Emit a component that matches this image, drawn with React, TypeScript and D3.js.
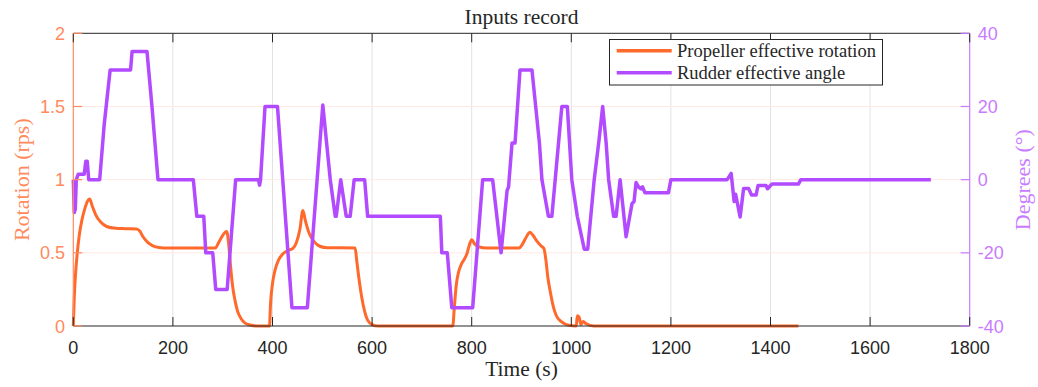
import React from "react";
import * as d3 from "d3";

const propT = [0,2,5,8,12,17,23,28,33,38,45,55,67,85,105,127,133,140,150,160,172,190,285,292,300,308,312,316,320,325,330,337,345,355,370,394,396,400,405,412,420,430,441,448,455,461,466,474,484,495,510,566,569,573,579,585,591,600,612,762,765,769,773,779,785,790,795,800,806,815,830,895,902,910,917,923,931,940,945,949,953,958,964,970,980,995,1010,1012,1016,1019,1024,1030,1045,1456];
const propRps = [0,0.2,0.38,0.5,0.62,0.72,0.8,0.85,0.867,0.82,0.76,0.71,0.68,0.668,0.665,0.663,0.65,0.61,0.57,0.548,0.537,0.533,0.533,0.57,0.62,0.645,0.56,0.4,0.27,0.17,0.1,0.05,0.02,0.007,0,0,0.15,0.29,0.38,0.45,0.49,0.515,0.53,0.57,0.66,0.79,0.72,0.63,0.575,0.545,0.535,0.533,0.45,0.34,0.2,0.1,0.04,0.01,0,0,0.12,0.28,0.36,0.42,0.455,0.49,0.55,0.59,0.56,0.54,0.533,0.533,0.56,0.61,0.64,0.62,0.58,0.545,0.53,0.45,0.33,0.23,0.13,0.07,0.03,0.005,0,0.07,0.06,0.01,0.03,0.015,0,0];

const rudT = [0,2,4,6,10,22,25,28,31,53,62,66,74,115,118,148,158,170,241,248,262,266,280,286,309,326,372,374,376,385,410,439,470,501,516,526,528,537,548,556,564,585,591,737,740,751,760,802,822,842,859,871,874,881,887,897,921,936,941,954,961,981,992,1001,1012,1026,1033,1046,1055,1063,1070,1075,1085,1090,1098,1110,1122,1126,1130,1135,1140,1143,1148,1195,1200,1313,1321,1327,1330,1339,1346,1356,1362,1371,1375,1391,1394,1403,1456,1461,1722];
const rudDeg = [0,-9,-8,0,1.5,1.5,5,5,0,0,15,20,30,30,35,35,20,0,0,-10,-10,-20,-20,-30,-30,0,0,-1.5,0,20,20,-35,-35,20.4,0,-10,-10,0,-10,-10,0,0,-10,-10,-20,-20,-35,-35,0,0,-20,-3,-2,10,10,30,30,10,0,-10,-10,20,20,0,-10,-19,-19,0,10,20,10,0,-10,-10,0,-15.6,-6.5,-6,-0.8,-2,-2.5,-2,-3.6,-3.6,0,0,1.7,-6,-4,-10.2,-2.4,-2.4,-4.2,-4.2,-1.6,-1.6,-2.5,-1.2,-1.2,0,0];

const xTicks = [0,200,400,600,800,1000,1200,1400,1600,1800];
const leftTicks = [0,0.5,1,1.5,2];
const rightTicks = [-40,-20,0,20,40];
const leftTickLabels = ["0","0.5","1","1.5","2"];
const rightTickLabels = ["-40","-20","0","20","40"];
const seriesNames = ["Propeller effective rotation","Rudder effective angle"];

const W = 1038, H = 387;
const L = 73.3, R = 969.7, T = 33.3, B = 326;
const ORANGE = "#FF6A2C";
const PURPLE = "#B24BFF";
const ORANGE_AX = "#FF8A5E";
const PURPLE_AX = "#C97AFF";
const DARK = "#262626";
const SERIF = "'Liberation Serif', 'DejaVu Serif', serif";
const SANS = "'Liberation Sans', Arial, sans-serif";

export default function App() {
  const x = d3.scaleLinear().domain([0, 1800]).range([L, R]);
  const yL = d3.scaleLinear().domain([0, 2]).range([B, T]);
  const yR = d3.scaleLinear().domain([-40, 40]).range([B, T]);
  const propLine = d3.line<number>().x((_, i) => x(propT[i])).y((d) => yL(d)).curve(d3.curveMonotoneX);
  const rudLine = d3.line<number>().x((_, i) => x(rudT[i])).y((d) => yR(d));
  const tl = 9;
  return (
    <svg width={W} height={H} style={{ position: "absolute", left: 0, top: 0, background: "#fff" }}>
      <rect x={0} y={0} width={W} height={H} fill="#fff" />
      {/* grid */}
      {xTicks.slice(1, -1).map((t) => (
        <line key={"gx" + t} x1={x(t)} x2={x(t)} y1={T} y2={B} stroke="#E2E2E2" strokeWidth={1} />
      ))}
      {leftTicks.slice(1, -1).map((t) => (
        <line key={"gy" + t} x1={L} x2={R} y1={yL(t)} y2={yL(t)} stroke="#FFE9E2" strokeWidth={1} />
      ))}
      {/* lines */}
      <path d={propLine(propRps) || ""} fill="none" stroke={ORANGE} strokeWidth={3} strokeLinejoin="round" />
      <path d={rudLine(rudDeg) || ""} fill="none" stroke={PURPLE} strokeWidth={3.5} strokeLinejoin="round" />
      {/* box */}
      <line x1={L} x2={R} y1={T} y2={T} stroke={DARK} strokeWidth={1} />
      <line x1={L} x2={R} y1={B} y2={B} stroke={DARK} strokeWidth={1} />
      <line x1={L} x2={L} y1={T} y2={B} stroke={ORANGE_AX} strokeWidth={1.2} />
      <line x1={R} x2={R} y1={T} y2={B} stroke={PURPLE_AX} strokeWidth={1.2} />
      {xTicks.map((t) => (
        <g key={"xt" + t}>
          <line x1={x(t)} x2={x(t)} y1={B} y2={B - tl} stroke={DARK} />
          <line x1={x(t)} x2={x(t)} y1={T} y2={T + tl} stroke={DARK} />
          <text x={x(t)} y={354} textAnchor="middle" fontFamily={SANS} fontSize={18} fill={DARK}>{t}</text>
        </g>
      ))}
      {leftTicks.map((t, i) => (
        <g key={"lt" + t}>
          <line x1={L} x2={L + tl} y1={yL(t)} y2={yL(t)} stroke={ORANGE_AX} strokeWidth={1.2} />
          <text x={65} y={yL(t) + 6.5} textAnchor="end" fontFamily={SANS} fontSize={18} fill={ORANGE_AX}>{leftTickLabels[i]}</text>
        </g>
      ))}
      {rightTicks.map((t, i) => (
        <g key={"rt" + t}>
          <line x1={R} x2={R - tl} y1={yR(t)} y2={yR(t)} stroke={PURPLE_AX} strokeWidth={1.2} />
          <text x={977.7} y={yR(t) + 6.5} textAnchor="start" fontFamily={SANS} fontSize={18} fill={PURPLE_AX}>{rightTickLabels[i]}</text>
        </g>
      ))}
      {/* titles */}
      <text x={(L + R) / 2} y={24} textAnchor="middle" fontFamily={SERIF} fontSize={21.5} fill={DARK}>Inputs record</text>
      <text x={(L + R) / 2} y={376} textAnchor="middle" fontFamily={SERIF} fontSize={21.5} fill={DARK}>Time (s)</text>
      <text transform={`translate(29,${(T + B) / 2}) rotate(-90)`} textAnchor="middle" fontFamily={SERIF} fontSize={22} fill={ORANGE_AX}>Rotation (rps)</text>
      <text transform={`translate(1030,${(T + B) / 2}) rotate(-90)`} textAnchor="middle" fontFamily={SERIF} fontSize={22} fill={PURPLE_AX}>Degrees (°)</text>
      {/* legend */}
      <rect x={609.5} y={39.5} width={273} height={45.5} fill="#fff" stroke={DARK} strokeWidth={1} />
      {seriesNames.map((n, i) => {
        const yy = 50.7 + i * 22;
        return (
          <g key={n}>
            <line x1={616.7} x2={671.7} y1={yy} y2={yy} stroke={i === 0 ? ORANGE : PURPLE} strokeWidth={3.5} />
            <text x={677} y={yy + 6} fontFamily={SERIF} fontSize={18.5} fill={DARK}>{n}</text>
          </g>
        );
      })}
    </svg>
  );
}
